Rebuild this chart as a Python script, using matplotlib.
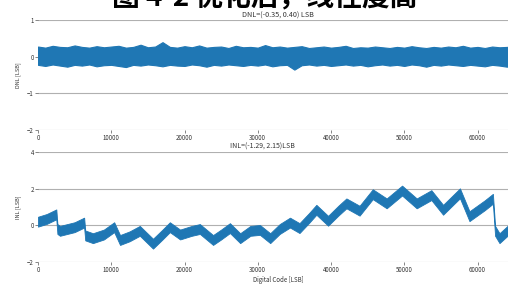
import matplotlib.pyplot as plt
import numpy as np

plt.rcParams['font.family'] = ['Noto Sans CJK SC', 'DejaVu Sans']

# DNL envelope, read every 1000 codes
dnl_code = list(range(0, 66000, 1000)) + [65535]
dnl_upper = [0.28, 0.25, 0.30, 0.27, 0.26, 0.31, 0.27, 0.25, 0.29, 0.26,
             0.28, 0.30, 0.25, 0.27, 0.33, 0.26, 0.28, 0.40, 0.27, 0.25,
             0.29, 0.26, 0.31, 0.25, 0.27, 0.28, 0.24, 0.30, 0.26, 0.27,
             0.25, 0.32, 0.26, 0.28, 0.25, 0.27, 0.29, 0.24, 0.26, 0.28,
             0.25, 0.27, 0.30, 0.24, 0.26, 0.25, 0.28, 0.26, 0.24, 0.27,
             0.25, 0.29, 0.26, 0.24, 0.27, 0.25, 0.28, 0.26, 0.30, 0.25,
             0.27, 0.24, 0.28, 0.26, 0.27, 0.29, 0.27]
dnl_lower = [-0.22, -0.25, -0.21, -0.24, -0.27, -0.22, -0.24, -0.21, -0.26, -0.23,
             -0.22, -0.25, -0.28, -0.22, -0.24, -0.21, -0.23, -0.26, -0.22, -0.24,
             -0.25, -0.21, -0.23, -0.27, -0.22, -0.24, -0.21, -0.23, -0.25, -0.22,
             -0.24, -0.21, -0.26, -0.23, -0.22, -0.35, -0.23, -0.21, -0.24, -0.22,
             -0.25, -0.23, -0.21, -0.24, -0.22, -0.26, -0.23, -0.21, -0.24, -0.22,
             -0.25, -0.21, -0.23, -0.27, -0.22, -0.24, -0.21, -0.23, -0.25, -0.22,
             -0.24, -0.26, -0.22, -0.24, -0.27, -0.23, -0.25]

# INL centre line (sawtooth)
inl_code = [0, 1200, 2500, 2650, 3000, 5000, 6300, 6450, 7500, 9000,
            10400, 11200, 12500, 13900, 15700, 17000, 18000, 19400, 21000, 22100,
            23900, 25000, 26200, 27600, 29000, 30300, 31700, 33000, 34400, 35700,
            37000, 38000, 39600, 41000, 42100, 43900, 45700, 47600, 49700, 51700,
            53700, 55300, 57600, 58900, 61000, 62100, 62400, 63000, 64100, 65535]
inl_mid = [0.2, 0.35, 0.6, -0.2, -0.3, -0.1, 0.15, -0.55, -0.7, -0.5,
           -0.1, -0.8, -0.6, -0.3, -1.0, -0.5, -0.1, -0.5, -0.3, -0.2,
           -0.8, -0.5, -0.15, -0.7, -0.3, -0.25, -0.7, -0.2, 0.15, -0.15,
           0.4, 0.85, 0.25, 0.8, 1.2, 0.8, 1.7, 1.2, 1.9, 1.2,
           1.65, 0.85, 1.75, 0.5, 1.1, 1.45, -0.3, -0.7, -0.3, -0.2]
inl_half = 0.27

blue = '#1f77b4'
grid_c = '#b0b0b0'

fig = plt.figure(figsize=(5.08, 2.84), dpi=100)
ax1 = fig.add_axes([0.0748, 0.542, 0.945, 0.387])
ax2 = fig.add_axes([0.0748, 0.0775, 0.945, 0.387])

ax1.fill_between(dnl_code, dnl_lower, dnl_upper, color=blue, lw=0.8, edgecolor=blue)
mid = np.array(inl_mid)
ax2.fill_between(inl_code, mid - inl_half, mid + inl_half, color=blue, lw=0.6, edgecolor=blue)

for ax, lim, yt in [(ax1, (-2, 1), [-2, -1, 0, 1]), (ax2, (-2, 4), [-2, 0, 2, 4])]:
    ax.set_xlim(0, 65535)
    ax.set_ylim(*lim)
    ax.set_yticks(yt)
    ax.set_xticks(range(0, 65000, 10000))
    ax.grid(axis='y', color=grid_c, lw=0.8)
    ax.set_axisbelow(True)
    for s in ax.spines.values():
        s.set_visible(False)
    ax.tick_params(labelsize=4.4, length=2, width=0.5, color='#555555',
                   labelcolor='#333333', pad=1)

ax1.set_ylabel('DNL [LSB]', fontsize=4, color='#333333', labelpad=4)
ax2.set_ylabel('INL [LSB]', fontsize=4, color='#333333', labelpad=4)
ax2.set_xlabel('Digital Code [LSB]', fontsize=4.4, color='#333333', labelpad=1)
ax1.set_title('DNL=(-0.35, 0.40) LSB', fontsize=5.2, color='#333333', pad=2)
fig.text(262 / 508, 1 - 147 / 284, 'INL=(-1.29, 2.15)LSB', fontsize=5,
         color='#333333', ha='center', va='center')

# page caption, cut off at the top edge of the picture
fig.text(265 / 508, 1 - 5 / 284, '图 4-2 优化后，线性度高', fontsize=20,
         fontweight='bold', color='black', ha='center', va='baseline')

fig.savefig('out.png', dpi=100)
